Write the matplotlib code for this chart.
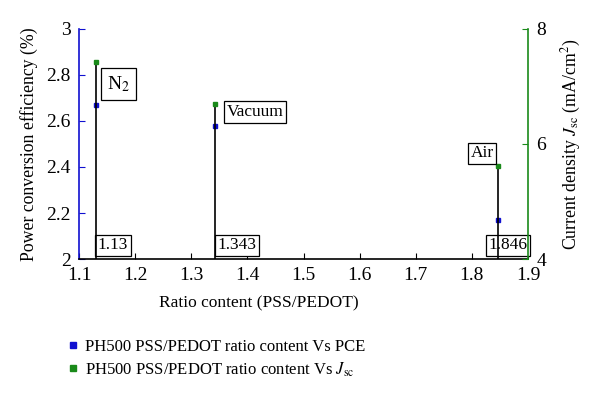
import matplotlib
matplotlib.use("Agg")
import matplotlib.pyplot as plt
from matplotlib.lines import Line2D

plt.rcParams['font.family'] = ['Liberation Serif', 'DejaVu Serif']
plt.rcParams['mathtext.fontset'] = 'stix'

ratio = [1.13, 1.343, 1.846]
pce = [2.67, 2.58, 2.17]
jsc = [7.43, 6.70, 5.62]
atmos = ['N$_2$', 'Vacuum', 'Air']
ratio_labels = ['1.13', '1.343', '1.846']

fig = plt.figure(figsize=(6, 4.01), dpi=100)
ax = fig.add_axes([0.1317, 0.354, 0.7483, 0.574])
ax2 = ax.twinx()

ax.set_xlim(1.1, 1.9)
ax.set_ylim(2, 3)
ax2.set_ylim(4, 8)

# vertical stems from base to Jsc point (in Jsc coordinates)
for x, j in zip(ratio, jsc):
    ax2.plot([x, x], [4, j], color='black', lw=1.2, zorder=1)

ax.plot(ratio, pce, 's', color='#1010d0', ms=3.5, zorder=3, linestyle='none')
ax2.plot(ratio, jsc, 's', color='#1a8a1a', ms=3.5, zorder=3, linestyle='none')

atm_off = [(8, -16), (8, -6), (-3, 9)]
atm_ha = ['left', 'left', 'right']
atm_fs = [14, 12.5, 12.5]
atm_pad = [0.3, 0.15, 0.15]
for x, j, lab, off, ha, fs, pd in zip(ratio, jsc, atmos, atm_off, atm_ha, atm_fs, atm_pad):
    bx = dict(boxstyle='square,pad=%g' % pd, fc='white', ec='black', lw=0.9)
    ax2.annotate(lab, (x, j), xytext=off, textcoords='offset points',
                 fontsize=fs, bbox=bx, ha=ha, va='center', zorder=5)
box = dict(boxstyle='square,pad=0.15', fc='white', ec='black', lw=0.9)
num_off = [(1.5, 0), (1.5, 0), (-6.5, 0)]
for x, lab, off in zip(ratio, ratio_labels, num_off):
    ax.annotate(lab, (x, 2.06), xytext=off, textcoords='offset points',
                fontsize=12.5, bbox=box, ha='left', va='center', zorder=5)

ax.set_xticks([1.1, 1.2, 1.3, 1.4, 1.5, 1.6, 1.7, 1.8, 1.9])
ax.set_xticklabels(['1.1', '1.2', '1.3', '1.4', '1.5', '1.6', '1.7', '1.8', '1.9'])
ax.set_yticks([2, 2.2, 2.4, 2.6, 2.8, 3])
ax.set_yticklabels(['2', '2.2', '2.4', '2.6', '2.8', '3'])
ax2.set_yticks([4, 6, 8])
ax2.set_yticklabels(['4', '6', '8'])

for a in (ax, ax2):
    a.spines['top'].set_visible(False)
ax.spines['left'].set_color('#1010d0')
ax.spines['right'].set_visible(False)
ax2.spines['left'].set_visible(False)
ax2.spines['right'].set_color('#1a8a1a')
ax2.spines['bottom'].set_visible(False)
ax.spines['left'].set_linewidth(1.2)
ax2.spines['right'].set_linewidth(1.2)
ax.spines['bottom'].set_linewidth(1.2)

ax.tick_params(axis='x', direction='in', length=4, labelsize=14, pad=6)
ax.tick_params(axis='y', direction='in', length=4, labelsize=14, color='#1010d0', pad=6)
ax2.tick_params(axis='y', direction='in', length=4, labelsize=14, color='#1a8a1a', pad=6)

ax.set_xlabel('Ratio content (PSS/PEDOT)', fontsize=12.5)
ax.xaxis.set_label_coords(0.40, -0.16)
ax.set_ylabel('Power conversion efficiency (%)', fontsize=12.8, labelpad=6)
ax2.set_ylabel('Current density $J_{\\rm sc}$ (mA/cm$^2$)', fontsize=12.8, labelpad=10)

handles = [
    Line2D([], [], marker='s', color='#1010d0', ls='none', ms=4),
    Line2D([], [], marker='s', color='#1a8a1a', ls='none', ms=4),
]
fig.legend(handles, ['PH500 PSS/PEDOT ratio content Vs PCE',
                     'PH500 PSS/PEDOT ratio content Vs $J_{\\rm sc}$'],
           loc='upper left', bbox_to_anchor=(0.097, 0.175), frameon=False,
           fontsize=12, handlelength=0.8, handletextpad=0.3, labelspacing=0.3,
           borderpad=0)

fig.savefig('out.png', dpi=100)
